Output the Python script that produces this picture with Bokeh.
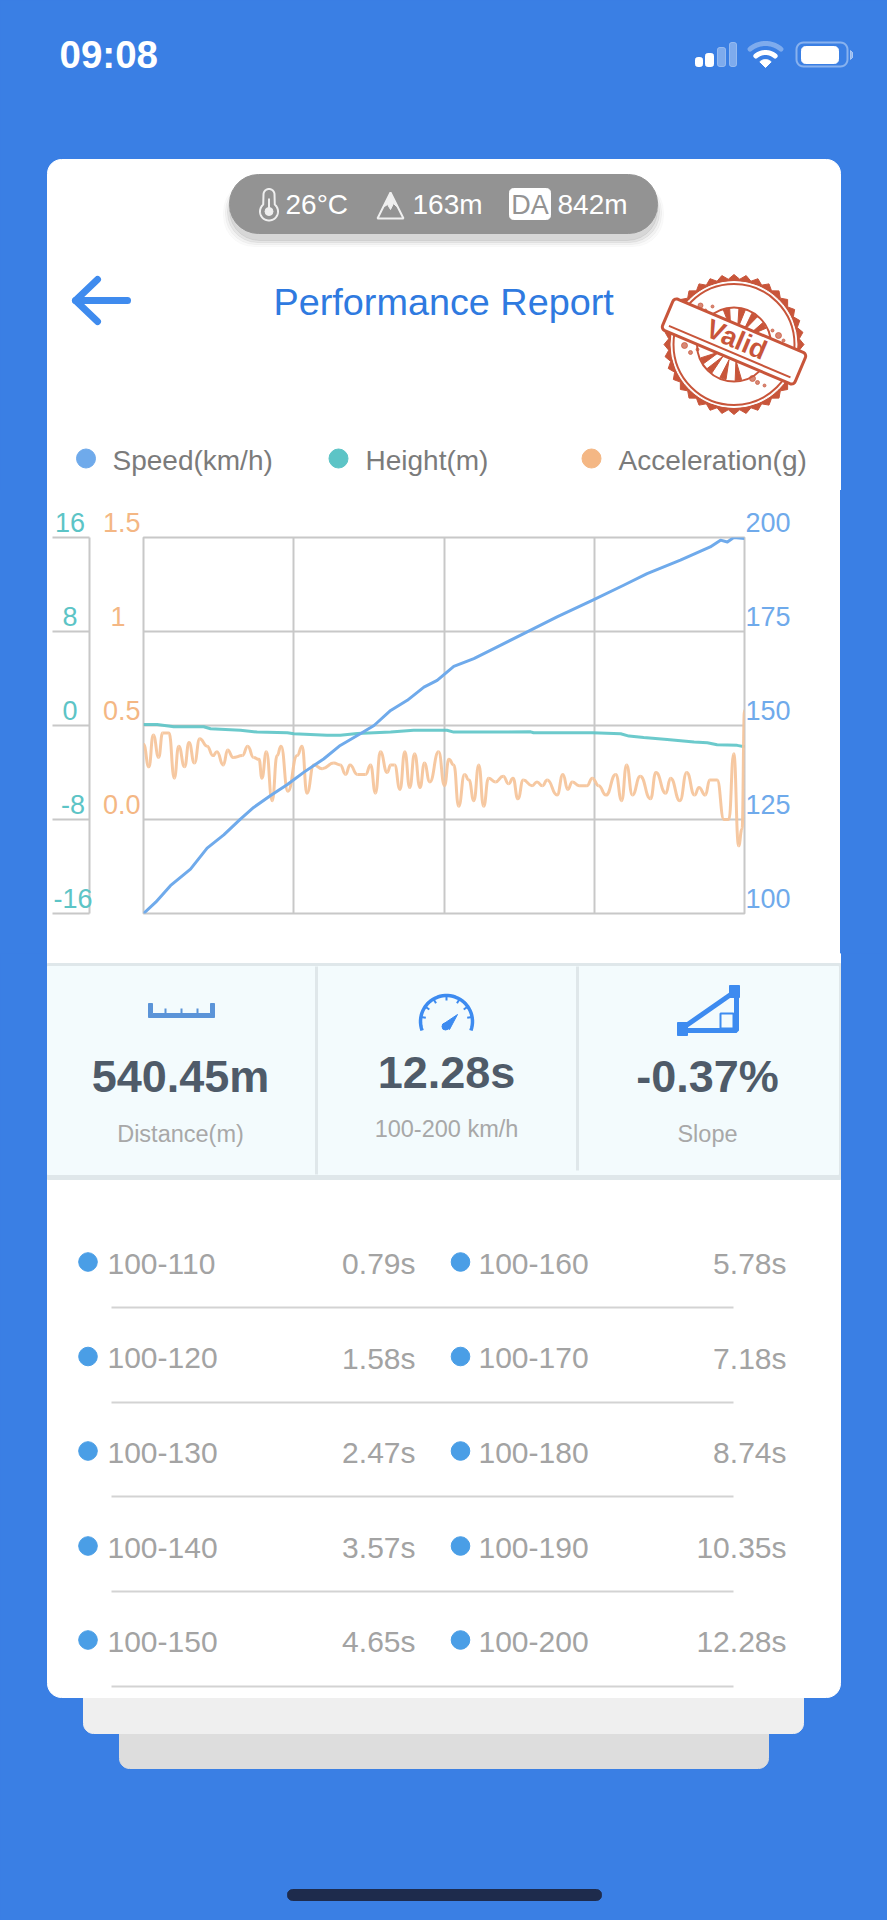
# Performance report screen: phone mockup with a three axis run chart
import numpy as np
from bokeh.core.properties import value
from bokeh.embed import file_html
from bokeh.layouts import column
from bokeh.models import FixedTicker, LinearAxis, Range1d
from bokeh.plotting import figure
from bokeh.resources import INLINE

# Chart data (time in seconds)
speed_t = [0.00, 0.25, 0.55, 0.96, 1.30, 1.64, 1.98, 2.25, 2.59, 2.94, 3.28, 3.68, 4.02, 4.43, 4.71,
           5.05, 5.39, 5.73, 6.00, 6.34, 6.75, 7.23, 7.84, 8.45, 9.17, 9.81, 10.29, 10.97, 11.58,
           11.79, 11.93, 12.06, 12.28]
speed = [100.0, 103.0, 107.4, 111.8, 117.4, 120.9, 125.1, 128.2, 131.3, 134.3, 137.6, 141.1, 144.7,
         147.8, 150.0, 154.0, 156.7, 160.2, 162.0, 165.7, 167.8, 170.9, 174.9, 178.9, 183.3, 187.3,
         190.4, 194.0, 197.5, 199.3, 198.8, 200.0, 199.7]

height_t = [0.00, 0.28, 0.62, 1.23, 1.37, 1.98, 2.32, 2.94, 3.07, 3.75, 4.02, 4.37, 5.05, 5.52, 6.20,
            6.34, 7.91, 7.97, 9.17, 9.75, 9.92, 10.22, 10.70, 11.25, 11.52, 11.72, 12.13, 12.28]
height = [0.08, 0.08, -0.11, -0.11, -0.28, -0.40, -0.56, -0.62, -0.70, -0.82, -0.82, -0.68, -0.56,
          -0.40, -0.40, -0.56, -0.54, -0.62, -0.62, -0.70, -0.90, -1.02, -1.19, -1.41, -1.47, -1.64,
          -1.69, -1.81]

accel_t = [0.00, 0.11, 0.20, 0.31, 0.39, 0.52, 0.63, 0.72, 0.84, 0.93, 1.04, 1.15, 1.30, 1.42, 1.50,
           1.63, 1.72, 1.83, 2.02, 2.13, 2.25, 2.36, 2.42, 2.51, 2.63, 2.73, 2.81, 2.95, 3.14, 3.24,
           3.34, 3.48, 3.65, 3.89, 4.02, 4.13, 4.22, 4.37, 4.54, 4.64, 4.74, 4.84, 4.98, 5.05, 5.13,
           5.24, 5.34, 5.44, 5.54, 5.65, 5.74, 5.85, 6.03, 6.15, 6.24, 6.34, 6.44, 6.56, 6.65, 6.75,
           6.85, 6.95, 7.05, 7.19, 7.35, 7.46, 7.55, 7.65, 7.76, 7.94, 8.04, 8.15, 8.25, 8.45, 8.57,
           8.67, 8.76, 8.90, 9.06, 9.17, 9.30, 9.45, 9.65, 9.77, 9.87, 9.99, 10.15, 10.36, 10.47,
           10.67, 10.77, 10.96, 11.10, 11.26, 11.35, 11.48, 11.57, 11.72, 11.86, 11.96, 12.06, 12.16,
           12.23, 12.28]
accel = [0.40, 0.28, 0.45, 0.33, 0.46, 0.46, 0.22, 0.39, 0.28, 0.41, 0.30, 0.43, 0.39, 0.34, 0.36,
         0.29, 0.37, 0.33, 0.34, 0.39, 0.33, 0.32, 0.22, 0.36, 0.10, 0.34, 0.39, 0.15, 0.34, 0.39,
         0.14, 0.29, 0.27, 0.30, 0.29, 0.24, 0.29, 0.24, 0.24, 0.29, 0.14, 0.36, 0.25, 0.29, 0.29,
         0.16, 0.36, 0.17, 0.35, 0.17, 0.30, 0.20, 0.36, 0.18, 0.32, 0.29, 0.07, 0.24, 0.21, 0.10,
         0.29, 0.07, 0.22, 0.20, 0.23, 0.19, 0.22, 0.11, 0.21, 0.18, 0.20, 0.18, 0.21, 0.13, 0.24,
         0.16, 0.20, 0.18, 0.18, 0.22, 0.18, 0.13, 0.24, 0.10, 0.29, 0.13, 0.23, 0.11, 0.25, 0.14,
         0.22, 0.10, 0.25, 0.13, 0.17, 0.13, 0.21, 0.21, 0.00, 0.00, 0.35, -0.14, -0.05, 0.58]

# Axis ticks and labels
x_grid = [3.07, 6.14, 9.21]
speed_ticks = [100, 125, 150, 175, 200]
height_ticks = [-16, -8, 0, 8, 16]
height_labels = ["-16", "-8", "0", "8", "16"]
accel_ticks = [0.0, 0.5, 1.0, 1.5]
accel_labels = ["0.0", "0.5", "1", "1.5"]

# Legend and header readouts
legend_names = ["Speed(km/h)", "Height(m)", "Acceleration(g)"]
stat_values = ["540.45m", "12.28s", "-0.37%"]
stat_names = ["Distance(m)", "100-200 km/h", "Slope"]

# Split times table
split_left = ["100-110", "100-120", "100-130", "100-140", "100-150"]
time_left = ["0.79s", "1.58s", "2.47s", "3.57s", "4.65s"]
split_right = ["100-160", "100-170", "100-180", "100-190", "100-200"]
time_right = ["5.78s", "7.18s", "8.74s", "10.35s", "12.28s"]

# Colours
BLUE_BG = "#3a7fe4"
SPEED = "#6faaeb"
HEIGHT = "#5cc4c6"
ACCEL = "#f4b784"
GRID = "#c8c8c8"
ICON = "#3d8bf0"
STAMP = "#c8553a"
FONT = "Liberation Sans"


def rrect(x0, y0, x1, y1, r):
    # outline of a rounded rectangle
    xs, ys = [], []
    corners = [(x1 - r, y0 + r, -90), (x1 - r, y1 - r, 0), (x0 + r, y1 - r, 90), (x0 + r, y0 + r, 180)]
    for cx, cy, a in corners:
        ang = np.radians(np.linspace(a, a + 90, 8))
        xs += list(cx + r * np.cos(ang))
        ys += list(cy + r * np.sin(ang))
    return xs, ys


def arc(cx, cy, r, a0, a1):
    # angles in degrees, y pointing down the page
    ang = np.radians(np.linspace(a0, a1, 40))
    return list(cx + r * np.cos(ang)), list(cy + r * np.sin(ang))


def txt(p, x, y, s, size, color, align="left", style="normal", angle=0):
    p.text(x=[x], y=[y], text=[s], text_font=value(FONT), text_font_size=f"{size}px", text_color=color,
           text_align=align, text_baseline="middle", text_font_style=style,
           angle=angle, angle_units="deg")


def page_figure(y_top, y_bottom, **kw):
    # figure whose data coordinates are the page pixels
    p = figure(width=887, height=y_bottom - y_top, x_range=Range1d(0, 887), y_range=Range1d(y_bottom, y_top),
               x_axis_location=None, y_axis_location=None, toolbar_location=None, output_backend="svg",
               min_border=0, background_fill_color=BLUE_BG, border_fill_color=BLUE_BG, outline_line_color=None,
               frame_align=False, **kw)
    p.grid.visible = False
    return p


# ---------- top of the screen ----------
top = page_figure(0, 490)
cx, cy = rrect(47, 159, 840, 700, 14)
top.patch(cx, cy, color="white")

txt(top, 59, 54, "09:08", 38.5, "white", style="bold")

# signal bars
for x0, x1, y0, alpha in [(695, 702, 57, 1), (705, 713, 53, 1), (717, 725, 47, 0.35), (729, 736, 42, 0.35)]:
    bx, by = rrect(x0, y0, x1, 66, 2)
    top.patch(bx, by, color="white", alpha=alpha)

# wifi
ax, ay = arc(765, 67, 24, -130, -50)
top.line(ax, ay, line_color="white", line_alpha=0.35, line_width=5, line_cap="round")
ax, ay = arc(765, 67, 15, -130, -50)
top.line(ax, ay, line_color="white", line_width=5, line_cap="round")
ax, ay = arc(765, 67, 8, -135, -45)
top.patch(ax + [765], ay + [67], color="white")

# battery
bx, by = rrect(796, 42, 847, 66, 7)
top.patch(bx, by, fill_color=None, line_color="white", line_alpha=0.4, line_width=2)
bx, by = rrect(801, 46, 838, 63, 4)
top.patch(bx, by, color="white")
top.patch([850, 852, 852, 850], [50, 52, 57, 59], color="white", alpha=0.45)

# pill with shadow
for grow, alpha in [(6, 0.02), (4, 0.03), (2, 0.05), (0, 0.06)]:
    sx, sy = rrect(229 - grow, 174 + 7, 657 + grow, 233 + 7 + grow, 30)
    top.patch(sx, sy, color="black", alpha=alpha)
sx, sy = rrect(229, 174, 657, 233, 29)
top.patch(sx, sy, color="#939393")
txt(top, 285, 204, "26°C", 28, "white")
txt(top, 412, 204, "163m", 28, "white")
txt(top, 557, 204, "842m", 28, "white")
bx, by = rrect(509, 188, 550, 219, 4)
top.patch(bx, by, color="white")
txt(top, 529.5, 204, "DA", 27, "#939393", align="center")

# thermometer and mountain icons
tx, ty = arc(268.5, 211, 9, -50, 230)
ux, uy = arc(268.5, 194, 5.5, 180, 360)
top.patch(tx + ux, ty + uy, fill_color=None, line_color="#efefef", line_width=2)
top.circle(x=[268.5], y=[211], radius=4, color="#efefef")
top.line([268.5, 268.5], [198, 211], line_color="#efefef", line_width=2)
top.patch([377, 390, 403, 377], [218, 192, 218, 218], fill_color=None, line_color="#efefef", line_width=2)
top.patch([384, 390, 396, 393, 390, 387], [206, 192, 206, 203, 209, 204], color="#efefef")

# back arrow and title
top.line([75, 127], [300, 300], line_color="#3f8bee", line_width=7, line_cap="round")
top.line([97, 75, 97], [279, 300, 321], line_color="#3f8bee", line_width=7, line_cap="round", line_join="round")
txt(top, 273, 301, "Performance Report", 37.8, "#2f7ae0")

# valid stamp
sc_x, sc_y = 733.5, 344
ang = np.radians(np.arange(0, 360, 5))
rad = np.where(np.arange(len(ang)) % 2 == 0, 70, 65.5)
top.patch(list(sc_x + rad * np.cos(ang)), list(sc_y + rad * np.sin(ang)), color=STAMP)
top.circle(x=[sc_x], y=[sc_y], radius=63, color="white")
top.circle(x=[sc_x], y=[sc_y], radius=60.5, fill_color="white", line_color=STAMP, line_width=2)
top.circle(x=[sc_x], y=[sc_y], radius=37, fill_color="white", line_color=STAMP, line_width=2)
band = np.radians(23)
for deg in [-125, -100, -78, -55, 60, 85, 110, 130]:
    a = band + np.radians(deg)
    top.patch([sc_x + 16 * np.cos(a), sc_x + 36 * np.cos(a - 0.09), sc_x + 36 * np.cos(a + 0.09)],
              [sc_y + 16 * np.sin(a), sc_y + 36 * np.sin(a - 0.09), sc_y + 36 * np.sin(a + 0.09)], color=STAMP)
top.scatter([700, 705, 712, 684, 690, 697, 778, 783, 772, 752, 757, 764],
            [305, 310, 306, 345, 352, 349, 335, 340, 330, 378, 382, 385],
            size=[5, 3, 3, 6, 4, 3, 6, 3, 3, 6, 4, 3], color=STAMP, alpha=0.7)
ux, uy = rrect(-72, -17, 72, 17, 4)
ux, uy = np.array(ux), np.array(uy)
top.patch(list(sc_x + ux * np.cos(band) - uy * np.sin(band)), list(sc_y - 3 + ux * np.sin(band) + uy * np.cos(band)),
          fill_color="white", line_color=STAMP, line_width=3)
ux = np.array([-66, 66])
top.line(list(sc_x + ux * np.cos(band) - 11 * np.sin(band)), list(sc_y - 3 + ux * np.sin(band) + 11 * np.cos(band)),
         line_color=STAMP, line_width=2)
txt(top, 736, 339, "Valid", 27, STAMP, align="center", style="bold", angle=-23)

# legend
for x, color, name, tx_start in zip([85.5, 338, 591], [SPEED, HEIGHT, ACCEL], legend_names, [112, 365, 618]):
    top.circle(x=[x], y=[458], radius=9.5, color=color)
    txt(top, tx_start, 460, name, 28, "#7b7b7b")

# ---------- the chart ----------
# sits in front of the lower figure so that figure's first pixel row stays hidden
p = figure(width=793, height=465, x_range=Range1d(0, 12.28), y_range=Range1d(100, 200), y_axis_location="right",
           toolbar_location=None, output_backend="svg", min_border_left=96, min_border_right=96,
           min_border_top=47, min_border_bottom=42, border_fill_color="white", background_fill_color="white",
           outline_line_color=GRID, outline_line_width=2, margin=(0, 0, 0, 47), frame_align=False,
           styles={"background-color": "white", "z-index": "1"})
p.extra_y_ranges = {"height": Range1d(-16, 16), "accel": Range1d(-0.5, 1.5)}

p.xaxis.visible = False
p.xgrid.ticker = FixedTicker(ticks=x_grid)
p.ygrid.ticker = FixedTicker(ticks=speed_ticks)
p.grid.grid_line_color = GRID
p.grid.grid_line_width = 2

# the empty second line of a label lifts it above its grid line
NB = "\u00a0"
p.yaxis.ticker = FixedTicker(ticks=speed_ticks)
p.yaxis.major_label_overrides = {t: f"{t}\n " for t in speed_ticks}
p.yaxis.major_label_text_line_height = 1.0
p.yaxis.major_label_text_font = FONT
p.yaxis.major_label_text_font_size = "27px"
p.yaxis.major_label_text_color = SPEED
p.yaxis.major_label_standoff = 1
p.yaxis.major_tick_in = 0
p.yaxis.major_tick_out = 0
p.yaxis.axis_line_color = None
p.yaxis.major_tick_line_color = None
p.yaxis.minor_tick_line_color = None

# acceleration axis next to the frame, the blank axis label keeps room for it
pad = {"1": NB + NB}
accel_axis = LinearAxis(y_range_name="accel", ticker=FixedTicker(ticks=accel_ticks),
                        major_label_overrides={t: f"{s}{pad.get(s, '')}\n " for t, s in zip(accel_ticks, accel_labels)},
                        major_label_text_line_height=1.0, major_label_text_font=FONT, major_label_text_font_size="27px",
                        major_label_text_color=ACCEL, major_tick_in=0, major_tick_out=0, major_label_standoff=3,
                        major_tick_line_color=None, minor_tick_line_color=None, axis_line_color=None,
                        axis_label=" ", axis_label_text_font_size="1px", axis_label_standoff=6)
p.add_layout(accel_axis, "left")

# height axis carries the line and the long ticks, its labels sit on the ticks
pad = {"-16": "", "-8": NB, "0": NB + NB, "8": NB + NB, "16": NB}
height_axis = LinearAxis(y_range_name="height", ticker=FixedTicker(ticks=height_ticks),
                         major_label_overrides={t: f"{s}{pad[s]}\n " for t, s in zip(height_ticks, height_labels)},
                         major_label_text_line_height=1.0, major_label_text_font=FONT,
                         major_label_text_font_size="27px", major_label_text_color=HEIGHT,
                         major_tick_in=0, major_tick_out=37, major_label_standoff=-40,
                         major_tick_line_color=GRID, major_tick_line_width=2, minor_tick_line_color=None,
                         axis_line_color=GRID, axis_line_width=2)
p.add_layout(height_axis, "left")

p.line(height_t, height, y_range_name="height", line_color=HEIGHT, line_width=3, line_alpha=0.9)
mid = [(a + b) / 2 for a, b in zip(accel_t[:-1], accel_t[1:])]
p.bezier(x0=accel_t[:-1], y0=accel[:-1], x1=accel_t[1:], y1=accel[1:], cx0=mid, cy0=accel[:-1], cx1=mid, cy1=accel[1:],
         y_range_name="accel", line_color="#f6c59c", line_width=3, line_alpha=0.95)
p.line(speed_t, speed, line_color=SPEED, line_width=3, line_join="round")

# ---------- bottom of the screen ----------
low = page_figure(953, 1920, margin=(-2, 0, 0, 0))
bx, by = rrect(119, 1500, 768, 1768, 10)
low.patch(bx, by, color="#dddddd")
bx, by = rrect(83, 1500, 803, 1733, 10)
low.patch(bx, by, color="#efefef")
bx, by = rrect(47, 700, 840, 1697, 14)
low.patch(bx, by, color="white")

# stat panel
low.quad(left=[47], right=[840], top=[963], bottom=[1179], color="#dfe7ea")
low.quad(left=[47], right=[838], top=[966], bottom=[1174], color="#f3fbfd")
low.segment(x0=[316], y0=[966], x1=[316], y1=[1174], line_color="#dfe7ea", line_width=3)
low.segment(x0=[577], y0=[966], x1=[577], y1=[1170], line_color="#dfe7ea", line_width=3)
for x, y_val, y_name, v, n in zip([180, 446, 707], [1076, 1072, 1076], [1133, 1128, 1133], stat_values, stat_names):
    txt(low, x, y_val, v, 45, "#4f5b69", align="center", style="bold")
    txt(low, x, y_name, n, 23.5, "#a8a8a8", align="center")

# ruler icon
low.patch([148, 152, 152, 210, 210, 214, 214, 148], [1003, 1003, 1013, 1013, 1003, 1003, 1017, 1017], color="#5b94d8")
low.segment(x0=[165, 181, 197], y0=[1008, 1008, 1008], x1=[165, 181, 197], y1=[1013, 1013, 1013],
            line_color="#5b94d8", line_width=2)

# gauge icon
ax, ay = arc(446, 1021, 26, -200, 20)
low.line(ax, ay, line_color=ICON, line_width=3.5)
for a in [-170, -145, -120, -90, -60, -35, -10]:
    a = np.radians(a)
    low.line([446 + 26 * np.cos(a), 446 + 21 * np.cos(a)], [1021 + 26 * np.sin(a), 1021 + 21 * np.sin(a)],
             line_color=ICON, line_width=2)
low.patch([442, 457, 449], [1024, 1014, 1029], color=ICON)
low.circle(x=[445], y=[1026], radius=3.5, color=ICON)

# slope icon
low.line([680, 736, 736, 680], [1029, 990, 1030, 1030], line_color=ICON, line_width=5)
low.quad(left=[729], right=[739], top=[985], bottom=[997], color=ICON)
low.quad(left=[677], right=[687], top=[1022], bottom=[1035], color=ICON)
low.quad(left=[720], right=[733], top=[1013], bottom=[1028], fill_color=None, line_color=ICON, line_width=2)

# split table
row_y = [1263, 1357.5, 1452, 1547, 1641]
line_y = [1307, 1402, 1496, 1591, 1686]
low.segment(x0=[111] * 5, y0=line_y, x1=[733] * 5, y1=line_y, line_color="#d3d3d3", line_width=2)
low.circle(x=[87.5] * 5, y=[y - 1.5 for y in row_y], radius=9.3, color="#4a9ee6")
low.circle(x=[460] * 5, y=[y - 1.5 for y in row_y], radius=9.3, color="#4a9ee6")
for y, a, b, c, d in zip(row_y, split_left, time_left, split_right, time_right):
    txt(low, 107, y, a, 30, "#a3a3a3")
    txt(low, 415, y, b, 30, "#a3a3a3", align="right")
    txt(low, 478, y, c, 30, "#a3a3a3")
    txt(low, 786, y, d, 30, "#a3a3a3", align="right")

# home indicator
bx, by = rrect(287, 1889, 601, 1900, 5)
low.patch(bx, by, color="#1e2b4c")

page = column(top, p, low, spacing=0)
html = file_html(page, INLINE)
# the blue also has to fill the page beside the chart
html = html.replace("<head>", f"<head><style>html,body{{background:{BLUE_BG};}}</style>", 1)
open("out.html", "w").write(html)
